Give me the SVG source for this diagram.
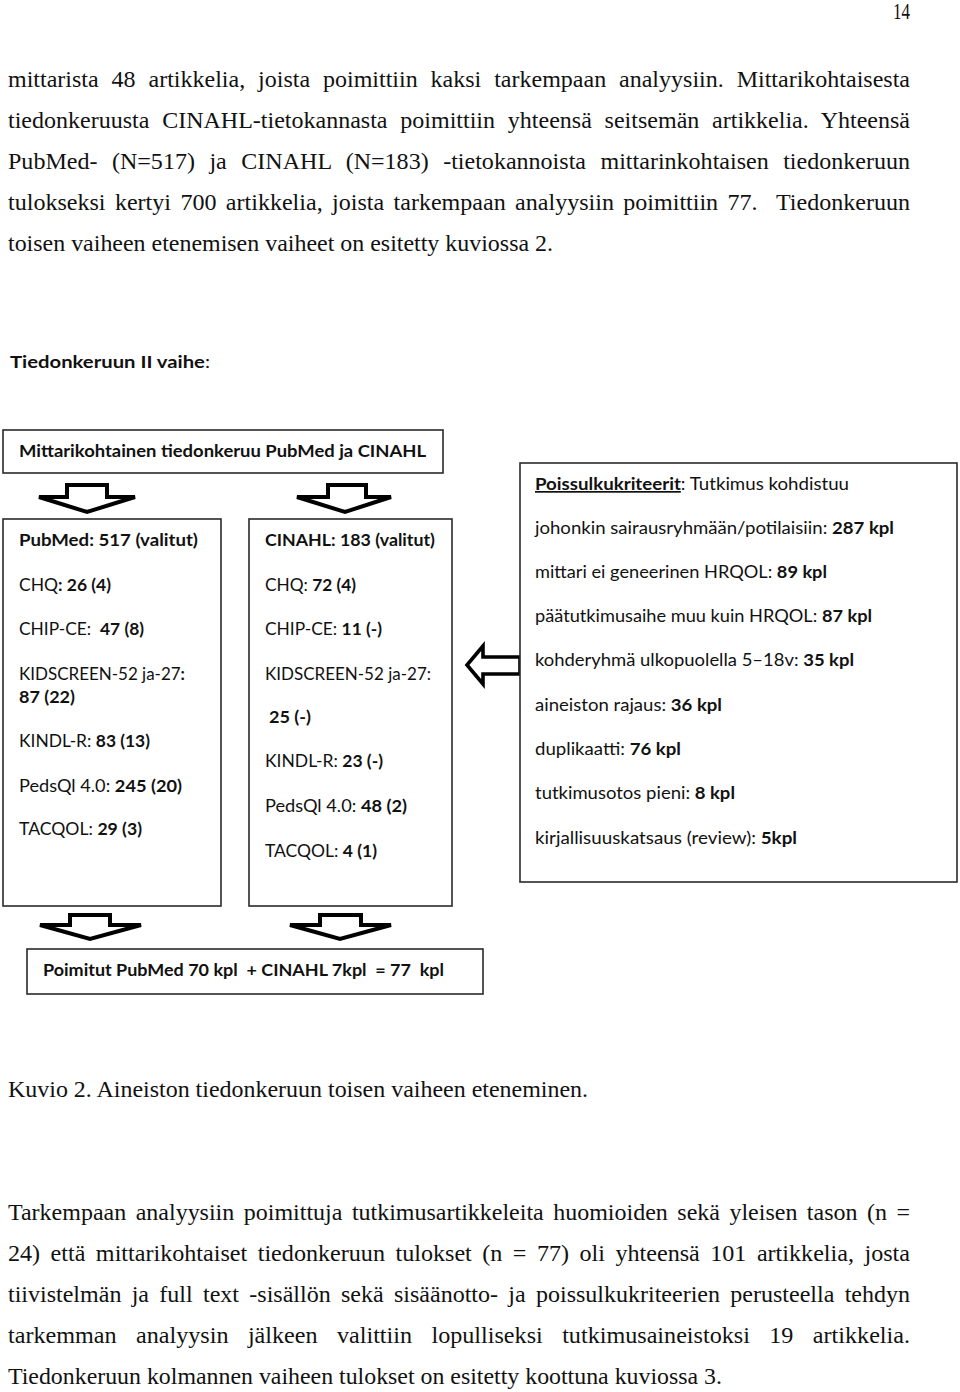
<svg xmlns="http://www.w3.org/2000/svg" width="960" height="1392" viewBox="0 0 960 1392">
<style>
.body{font-family:"Liberation Serif","Times New Roman",serif;font-size:24px;fill:#111}
.lbl{font-family:Lato,"Open Sans","Liberation Sans",sans-serif;font-size:17px;fill:#111}
.b{font-weight:bold}
.box{fill:#fff;stroke:#2a2a2a;stroke-width:1.6}
.arr{fill:#fff;stroke:#000;stroke-width:4;stroke-linejoin:miter;stroke-miterlimit:2.5}
.arrl{fill:#fff;stroke:#000;stroke-width:3.6;stroke-linejoin:miter;stroke-miterlimit:4}
</style>
<rect width="960" height="1392" fill="#fff"/>
<text class="body" x="910" y="19" text-anchor="end" font-size="17" textLength="17" lengthAdjust="spacingAndGlyphs">14</text>
<g id="intro-text">
<text class="body" x="8" y="87" word-spacing="6.9" textLength="902" lengthAdjust="spacingAndGlyphs">mittarista 48 artikkelia, joista poimittiin kaksi tarkempaan analyysiin. Mittarikohtaisesta</text>
<text class="body" x="8" y="128" word-spacing="6.8" textLength="902" lengthAdjust="spacingAndGlyphs">tiedonkeruusta CINAHL-tietokannasta poimittiin yhteensä seitsemän artikkelia. Yhteensä</text>
<text class="body" x="8" y="169" word-spacing="8.5" textLength="902" lengthAdjust="spacingAndGlyphs">PubMed- (N=517) ja CINAHL (N=183) -tietokannoista mittarinkohtaisen tiedonkeruun</text>
<text class="body" x="8" y="210" word-spacing="3.4" textLength="902" lengthAdjust="spacingAndGlyphs" xml:space="preserve">tulokseksi kertyi 700 artikkelia, joista tarkempaan analyysiin poimittiin 77.  Tiedonkeruun</text>
<text class="body" x="8" y="251" textLength="545" lengthAdjust="spacingAndGlyphs">toisen vaiheen etenemisen vaiheet on esitetty kuviossa 2.</text>
</g>
<text class="lbl" x="10" y="368" textLength="200" lengthAdjust="spacingAndGlyphs"><tspan class="b">Tiedonkeruun II vaihe</tspan>:</text>

<g id="connectors">
<polygon class="arr" points="67,485 107,485 107,497 135,497 87,512 39,497 67,497"/>
<polygon class="arr" points="328,485 366,485 366,497 391,497 345,512 297,497 328,497"/>
<polygon class="arrl" points="520,657 483,657 483,646 467,665 483,684 483,674 520,674"/>
<polygon class="arr" points="70,915 110,915 110,925 141,925 90,939 40,925 70,925"/>
<polygon class="arr" points="320,915 361,915 361,925 391,925 340,939 290,925 320,925"/>
</g>

<g id="node-mittarikohtainen">
<rect class="box" x="3" y="430" width="440" height="43"/>
<text class="lbl b" x="19" y="457" textLength="407" lengthAdjust="spacingAndGlyphs">Mittarikohtainen tiedonkeruu PubMed ja CINAHL</text>
</g>

<g id="node-pubmed">
<rect class="box" x="3" y="519" width="218" height="387"/>
<text class="lbl b" x="19" y="546" textLength="179" lengthAdjust="spacingAndGlyphs">PubMed: 517 (valitut)</text>
<text class="lbl" x="19" y="591" textLength="92" lengthAdjust="spacingAndGlyphs">CHQ<tspan class="b">: 26 (4)</tspan></text>
<text class="lbl" x="19" y="635" textLength="125" lengthAdjust="spacingAndGlyphs" xml:space="preserve">CHIP-CE:  <tspan class="b">47 (8)</tspan></text>
<text class="lbl" x="19" y="680" textLength="166" lengthAdjust="spacingAndGlyphs">KIDSCREEN-52 ja-27<tspan class="b">:</tspan></text>
<text class="lbl b" x="19" y="703" textLength="56" lengthAdjust="spacingAndGlyphs">87 (22)</text>
<text class="lbl" x="19" y="747" textLength="131" lengthAdjust="spacingAndGlyphs">KINDL-R: <tspan class="b">83 (13)</tspan></text>
<text class="lbl" x="19" y="792" textLength="163" lengthAdjust="spacingAndGlyphs">PedsQl 4.0: <tspan class="b">245 (20)</tspan></text>
<text class="lbl" x="19" y="835" textLength="123" lengthAdjust="spacingAndGlyphs">TACQOL: <tspan class="b">29 (3)</tspan></text>
</g>

<g id="node-cinahl">
<rect class="box" x="249" y="519" width="203" height="387"/>
<text class="lbl b" x="265" y="546" textLength="170" lengthAdjust="spacingAndGlyphs">CINAHL: 183 (valitut)</text>
<text class="lbl" x="265" y="591" textLength="91" lengthAdjust="spacingAndGlyphs">CHQ: <tspan class="b">72 (4)</tspan></text>
<text class="lbl" x="265" y="635" textLength="117" lengthAdjust="spacingAndGlyphs">CHIP-CE: <tspan class="b">11 (-)</tspan></text>
<text class="lbl" x="265" y="680" textLength="166" lengthAdjust="spacingAndGlyphs">KIDSCREEN-52 ja-27:</text>
<text class="lbl b" x="269" y="723" textLength="42" lengthAdjust="spacingAndGlyphs">25 (-)</text>
<text class="lbl" x="265" y="767" textLength="118" lengthAdjust="spacingAndGlyphs">KINDL-R: <tspan class="b">23 (-)</tspan></text>
<text class="lbl" x="265" y="812" textLength="142" lengthAdjust="spacingAndGlyphs">PedsQl 4.0: <tspan class="b">48 (2)</tspan></text>
<text class="lbl" x="265" y="857" textLength="112" lengthAdjust="spacingAndGlyphs">TACQOL: <tspan class="b">4 (1)</tspan></text>
</g>

<g id="node-poissulku">
<rect class="box" x="520" y="463" width="437" height="419"/>
<text class="lbl" x="535" y="490" textLength="314" lengthAdjust="spacingAndGlyphs"><tspan class="b" text-decoration="underline">Poissulkukriteerit</tspan>: Tutkimus kohdistuu</text>
<text class="lbl" x="535" y="534" textLength="359" lengthAdjust="spacingAndGlyphs">johonkin sairausryhmään/potilaisiin: <tspan class="b">287 kpl</tspan></text>
<text class="lbl" x="535" y="578" textLength="292" lengthAdjust="spacingAndGlyphs">mittari ei geneerinen HRQOL: <tspan class="b">89 kpl</tspan></text>
<text class="lbl" x="535" y="622" textLength="337" lengthAdjust="spacingAndGlyphs">päätutkimusaihe muu kuin HRQOL: <tspan class="b">87 kpl</tspan></text>
<text class="lbl" x="535" y="666" textLength="319" lengthAdjust="spacingAndGlyphs">kohderyhmä ulkopuolella 5–18v: <tspan class="b">35 kpl</tspan></text>
<text class="lbl" x="535" y="711" textLength="187" lengthAdjust="spacingAndGlyphs">aineiston rajaus: <tspan class="b">36 kpl</tspan></text>
<text class="lbl" x="535" y="755" textLength="146" lengthAdjust="spacingAndGlyphs">duplikaatti: <tspan class="b">76 kpl</tspan></text>
<text class="lbl" x="535" y="799" textLength="200" lengthAdjust="spacingAndGlyphs">tutkimusotos pieni: <tspan class="b">8 kpl</tspan></text>
<text class="lbl" x="535" y="844" textLength="262" lengthAdjust="spacingAndGlyphs">kirjallisuuskatsaus (review): <tspan class="b">5kpl</tspan></text>
</g>

<g id="node-poimitut">
<rect class="box" x="27" y="949" width="456" height="45"/>
<text class="lbl b" x="43" y="976" textLength="401" lengthAdjust="spacingAndGlyphs" xml:space="preserve">Poimitut PubMed 70 kpl  + CINAHL 7kpl  = 77  kpl</text>
</g>

<text class="body" x="8" y="1097" textLength="580" lengthAdjust="spacingAndGlyphs">Kuvio 2. Aineiston tiedonkeruun toisen vaiheen eteneminen.</text>

<g id="outro-text">
<text class="body" x="8" y="1220" word-spacing="3.5" textLength="902" lengthAdjust="spacingAndGlyphs">Tarkempaan analyysiin poimittuja tutkimusartikkeleita huomioiden sekä yleisen tason (n =</text>
<text class="body" x="8" y="1261" word-spacing="4.4" textLength="902" lengthAdjust="spacingAndGlyphs">24) että mittarikohtaiset tiedonkeruun tulokset (n = 77) oli yhteensä 101 artikkelia, josta</text>
<text class="body" x="8" y="1302" word-spacing="4.3" textLength="902" lengthAdjust="spacingAndGlyphs">tiivistelmän ja full text -sisällön sekä sisäänotto- ja poissulkukriteerien perusteella tehdyn</text>
<text class="body" x="8" y="1343" word-spacing="13.3" textLength="902" lengthAdjust="spacingAndGlyphs">tarkemman analyysin jälkeen valittiin lopulliseksi tutkimusaineistoksi 19 artikkelia.</text>
<text class="body" x="8" y="1384" textLength="714" lengthAdjust="spacingAndGlyphs">Tiedonkeruun kolmannen vaiheen tulokset on esitetty koottuna kuviossa 3.</text>
</g>
</svg>
